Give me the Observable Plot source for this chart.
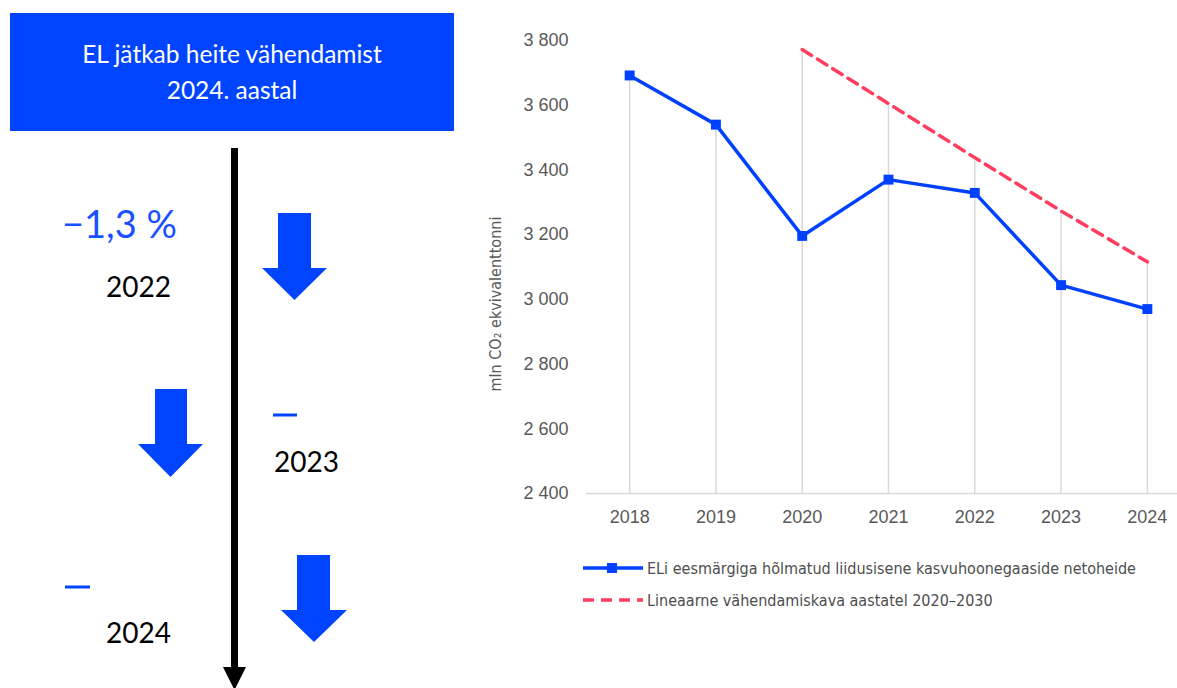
<!DOCTYPE html>
<html>
<head>
<meta charset="utf-8">
<script src="https://cdn.jsdelivr.net/npm/d3@7"></script>
<script src="https://cdn.jsdelivr.net/npm/@observablehq/plot@0.6"></script>
<style>
  html, body { margin: 0; padding: 0; background: #fff; }
  #page { position: relative; width: 1177px; height: 688px; overflow: hidden; background: #fff; }
  .abs { position: absolute; }
  #titlebox { left: 10px; top: 13px; width: 444px; height: 118px; background: #0044FF; color: #fff;
    font-family: Lato, "Open Sans", sans-serif; font-size: 24.5px; line-height: 36px; text-align: center;
    display: flex; flex-direction: column; justify-content: center; }
  .lbl { font-family: Lato, "Open Sans", sans-serif; white-space: nowrap; }
  .legend { font-family: "Liberation Sans Narrow", "Arial Narrow", "DejaVu Sans Condensed", sans-serif;
    font-stretch: condensed; font-size: 16px; color: #4d4d4d; white-space: nowrap; display: flex; align-items: center; }
  #chart { left: 480px; top: 0px; }
  #chart svg text { font-size: 18px; }
</style>
</head>
<body>
<div id="page">
  <div id="titlebox" class="abs"></div>
  <svg id="leftsvg" class="abs" style="left:0;top:0" width="470" height="688"></svg>
  <div id="leftText"></div>
  <div id="chart" class="abs"></div>
  <div id="legend"></div>
</div>
<script>
// ---- data ----
const titleLines = ["EL jätkab heite vähendamist", "2024. aastal"];
const stepYears = ["2022", "2023", "2024"];
const stepChanges = ["−1,3 %", "", ""];

const years = [2018, 2019, 2020, 2021, 2022, 2023, 2024];
const emissions = [3692, 3540, 3196, 3370, 3329, 3044, 2970];
const planYears = [2020, 2021, 2022, 2023, 2024];
const planValues = [3772, 3605, 3438, 3273, 3116];
const yTicks = [2400, 2600, 2800, 3000, 3200, 3400, 3600, 3800];
const yLabel = "mln CO₂ ekvivalenttonni";
const seriesNames = ["ELi eesmärgiga hõlmatud liidusisene kasvuhoonegaaside netoheide",
                     "Lineaarne vähendamiskava aastatel 2020–2030"];

const BLUE = "#0044FF";
const LINEBLUE = "#0041FF";
const RED = "#FF3D5E";
const GRID = "#d9d9d9";

// ---- left infographic ----
document.getElementById("titlebox").innerHTML = titleLines.map(t => `<div>${t}</div>`).join("");

const ls = d3.select("#leftsvg");
// black timeline arrow
ls.append("line").attr("x1", 234.5).attr("x2", 234.5).attr("y1", 148).attr("y2", 670)
  .attr("stroke", "#000").attr("stroke-width", 7);
ls.append("path").attr("d", "M223,667 L246,667 L234.5,690 Z").attr("fill", "#000");

// blue block arrows: [shaftLeft, shaftRight, top, headY, headLeft, headRight, tip]
const arrows = [
  [278, 311, 213, 268, 262, 327, 300],
  [155, 187, 389, 444, 138, 203, 477],
  [297, 330, 555, 610, 281, 347, 642]
];
arrows.forEach(([a, b, t, h, hl, hr, tip]) => {
  ls.append("path")
    .attr("d", `M${a},${t} L${b},${t} L${b},${h} L${hr},${h} L${(hl + hr) / 2},${tip} L${hl},${h} L${a},${h} Z`)
    .attr("fill", BLUE);
});
// blue dashes where values are missing
[[273, 297, 415], [65, 90, 587]].forEach(([x1, x2, y]) => {
  ls.append("line").attr("x1", x1).attr("x2", x2).attr("y1", y).attr("y2", y)
    .attr("stroke", BLUE).attr("stroke-width", 3);
});

const lt = document.getElementById("leftText");
const yearPos = [[106, 268], [274, 443], [106, 614]];
stepYears.forEach((y, i) => {
  const d = document.createElement("div");
  d.className = "abs lbl";
  d.style.left = yearPos[i][0] + "px";
  d.style.top = yearPos[i][1] + "px";
  d.style.fontSize = "28px";
  d.style.lineHeight = "36px";
  d.style.color = "#000";
  d.textContent = y;
  lt.appendChild(d);
});
const chg = document.createElement("div");
chg.className = "abs lbl";
chg.style.left = "62px"; chg.style.top = "200px";
chg.style.fontSize = "38px"; chg.style.lineHeight = "46px";
chg.style.color = "#1a50ff";
chg.textContent = stepChanges[0];
lt.appendChild(chg);

// ---- chart ----
const data = years.map((y, i) => ({year: y, value: emissions[i]}));
const plan = planYears.map((y, i) => ({year: y, value: planValues[i]}));
const drops = years.map((y, i) => {
  const j = planYears.indexOf(y);
  return {year: y, top: j >= 0 ? Math.max(emissions[i], planValues[j]) : emissions[i]};
});

const fmt = d => d3.format(",")(d).replace(/,/g, " ");

const chart = Plot.plot({
  width: 697,
  height: 540,
  marginLeft: 106,
  marginRight: 0,
  marginTop: 40,
  marginBottom: 47,
  style: {fontFamily: "'Liberation Sans', Arial, sans-serif", fontSize: "18px", color: "#595959", background: "transparent"},
  x: {type: "linear", domain: [2017.5, 2024.5], range: [106, 710]},
  y: {domain: [2400, 3800]},
  marks: [
    Plot.ruleX(drops, {x: "year", y1: 2400, y2: "top", stroke: GRID, strokeWidth: 1.5}),
    Plot.ruleY([2400], {stroke: GRID, strokeWidth: 1.5}),
    Plot.axisX({ticks: years, tickFormat: d => String(d), tickSize: 0, tickPadding: 17, label: null, fill: "#595959"}),
    Plot.axisY({ticks: yTicks, tickFormat: fmt, tickSize: 0, tickPadding: 18, label: null, fill: "#595959"}),
    Plot.line(plan, {x: "year", y: "value", stroke: RED, strokeWidth: 3.5, strokeDasharray: "11,7"}),
    Plot.line(data, {x: "year", y: "value", stroke: LINEBLUE, strokeWidth: 3.5}),
    Plot.dot(data, {x: "year", y: "value", symbol: "square", r: 5.6, fill: LINEBLUE, stroke: "none"}),
    Plot.text([yLabel], {frameAnchor: "left", textAnchor: "middle", rotate: -90, dx: -91, dy: 37,
      fontFamily: "'Liberation Sans Narrow', 'Arial Narrow', 'DejaVu Sans Condensed', sans-serif",
      fontSize: 16, fill: "#595959"})
  ]
});
document.getElementById("chart").appendChild(chart);
// keep the rotated axis title at its own size
d3.select(chart).selectAll("text").filter(function() { return this.textContent === yLabel; }).style("font-size", "16px");

// ---- legend ----
const lg = document.getElementById("legend");
seriesNames.forEach((name, i) => {
  const row = document.createElement("div");
  row.className = "abs legend";
  row.style.left = "583px";
  row.style.top = (i === 0 ? 558 : 590) + "px";
  row.style.height = "20px";
  const sample = i === 0
    ? `<svg width="64" height="20"><line x1="0" x2="60" y1="10" y2="10" stroke="${LINEBLUE}" stroke-width="3.5"/><rect x="24" y="5" width="10" height="10" fill="${LINEBLUE}"/></svg>`
    : `<svg width="64" height="20"><line x1="0" x2="60" y1="10" y2="10" stroke="${RED}" stroke-width="3.5" stroke-dasharray="11,7"/></svg>`;
  row.innerHTML = sample + `<span style="margin-left:0px">${name}</span>`;
  lg.appendChild(row);
});
</script>
</body>
</html>
